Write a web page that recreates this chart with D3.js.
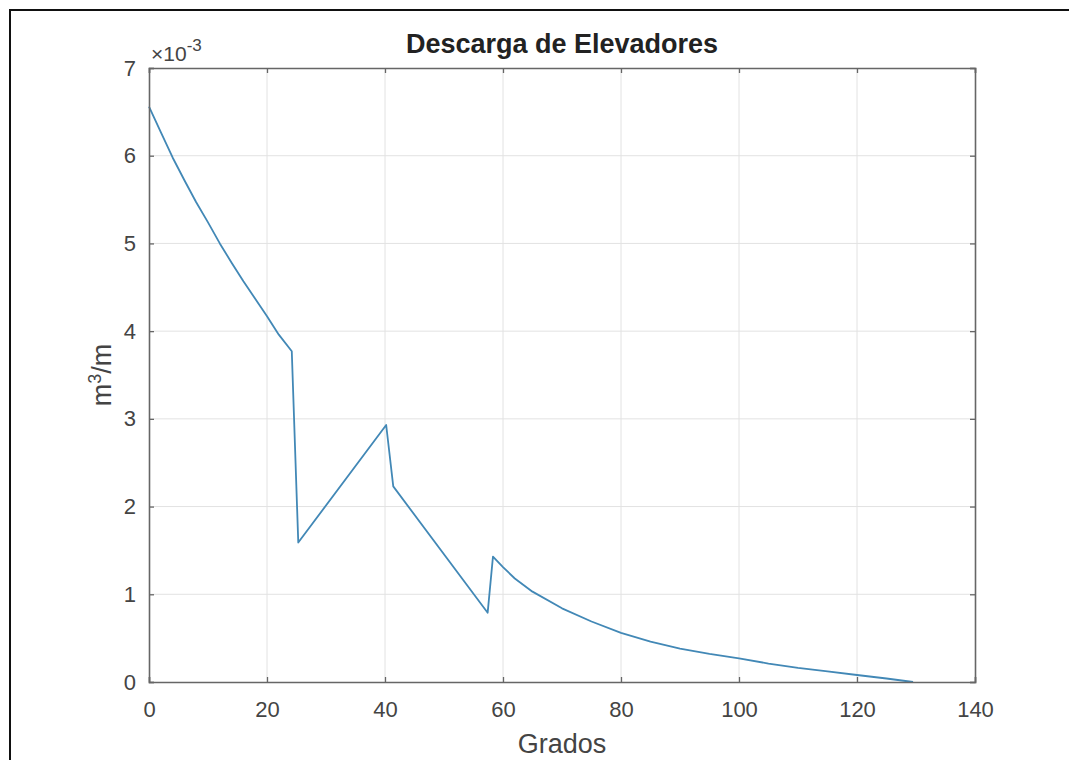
<!DOCTYPE html>
<html>
<head>
<meta charset="utf-8">
<script src="https://cdn.jsdelivr.net/npm/d3@7"></script>
<style>
  body{margin:0;background:#fff;overflow:hidden;}
  svg{display:block;}
  svg text{font-family:"Liberation Sans",Arial,sans-serif;}
</style>
</head>
<body>
<div id="chart"></div>
<script>
// grados (x) and descarga in units of 1e-3 m3/m (y)
let grados=[0,2,4,6,8,10,12,14,16,18,20,22,24.2,25.3,40.2,41.4,57.4,58.3,60,62,65,70,75,80,85,90,95,100,105,110,115,120,125,129.5];
let descarga=[6.56,6.27,5.98,5.72,5.47,5.24,5.0,4.78,4.57,4.37,4.17,3.96,3.77,1.59,2.93,2.23,0.79,1.43,1.31,1.18,1.03,0.84,0.69,0.56,0.46,0.38,0.32,0.27,0.21,0.16,0.12,0.08,0.04,0.0];
let xTicks=[0,20,40,60,80,100,120,140];
let yTicks=[0,1,2,3,4,5,6,7];

let W=1069,H=760;
let margin={left:149,top:68,right:94,bottom:78};
let w=W-margin.left-margin.right, h=H-margin.top-margin.bottom;

let svg=d3.select(`#chart`).append(`svg`)
    .attr(`width`,W)
    .attr(`height`,H);

//outer figure frame, only top and left edges are in view
svg.append(`path`)
    .attr(`d`,`M10,${H}V10H${W}`)
    .attr(`fill`,`none`)
    .attr(`stroke`,`#111`)
    .attr(`stroke-width`,2);

let g=svg.append(`g`).attr(`transform`,`translate(${margin.left},${margin.top})`);

let x=d3.scaleLinear().domain([0,140]).range([0,w]);
let y=d3.scaleLinear().domain([0,7]).range([h,0]);

//grid
g.append(`g`).selectAll(`line`).data(xTicks.slice(1,-1)).enter().append(`line`)
    .attr(`x1`,d=>x(d)).attr(`x2`,d=>x(d))
    .attr(`y1`,0).attr(`y2`,h)
    .attr(`stroke`,`#e2e2e2`).attr(`stroke-width`,1);
g.append(`g`).selectAll(`line`).data(yTicks.slice(1,-1)).enter().append(`line`)
    .attr(`x1`,0).attr(`x2`,w)
    .attr(`y1`,d=>y(d)).attr(`y2`,d=>y(d))
    .attr(`stroke`,`#e2e2e2`).attr(`stroke-width`,1);

//data line
let data=grados.map((d,i)=>({x:d,y:descarga[i]}));
g.append(`path`)
    .datum(data)
    .attr(`fill`,`none`)
    .attr(`stroke`,`#4288b6`)
    .attr(`stroke-width`,1.8)
    .attr(`stroke-linejoin`,`round`)
    .attr(`d`,d3.line().x(d=>x(d.x)).y(d=>y(d.y)));

//axes (ticks inward, box on)
let axisColor=`#666`;
let xb=g.append(`g`).attr(`transform`,`translate(0,${h})`)
    .call(d3.axisBottom(x).tickValues(xTicks).tickSize(-5).tickPadding(19).tickFormat(d3.format(`d`)));
let xt=g.append(`g`)
    .call(d3.axisTop(x).tickValues(xTicks).tickSize(-5).tickFormat(``));
let yl=g.append(`g`)
    .call(d3.axisLeft(y).tickValues(yTicks).tickSize(-5).tickPadding(13).tickFormat(d3.format(`d`)));
let yr=g.append(`g`).attr(`transform`,`translate(${w},0)`)
    .call(d3.axisRight(y).tickValues(yTicks).tickSize(-5).tickFormat(``));
[xb,xt,yl,yr].forEach(a=>{
    a.select(`.domain`).attr(`stroke`,axisColor).attr(`stroke-width`,1.6);
    a.selectAll(`.tick line`).attr(`stroke`,axisColor).attr(`stroke-width`,1.3);
    a.selectAll(`text`).attr(`fill`,`#444`).style(`font-size`,`22px`);
});

//exponent label
let ex=svg.append(`text`)
    .attr(`x`,margin.left+2)
    .attr(`y`,61)
    .attr(`fill`,`#444`)
    .style(`font-size`,`21px`);
ex.append(`tspan`).text(`\u00d710`);
ex.append(`tspan`).attr(`dy`,-10).style(`font-size`,`17px`).text(`-3`);

//title
svg.append(`text`)
    .attr(`x`,margin.left+w/2)
    .attr(`y`,53)
    .attr(`text-anchor`,`middle`)
    .attr(`fill`,`#222`)
    .style(`font-size`,`27px`)
    .style(`font-weight`,`bold`)
    .text(`Descarga de Elevadores`);

//x label
svg.append(`text`)
    .attr(`x`,margin.left+w/2)
    .attr(`y`,753)
    .attr(`text-anchor`,`middle`)
    .attr(`fill`,`#444`)
    .style(`font-size`,`27px`)
    .text(`Grados`);

//y label
let yLab=svg.append(`text`)
    .attr(`transform`,`translate(111,${margin.top+h/2}) rotate(-90)`)
    .attr(`text-anchor`,`middle`)
    .attr(`fill`,`#444`)
    .style(`font-size`,`27px`);
yLab.append(`tspan`).text(`m`);
yLab.append(`tspan`).attr(`dy`,-10).style(`font-size`,`18px`).text(`3`);
yLab.append(`tspan`).attr(`dy`,10).text(`/m`);
</script>
</body>
</html>
